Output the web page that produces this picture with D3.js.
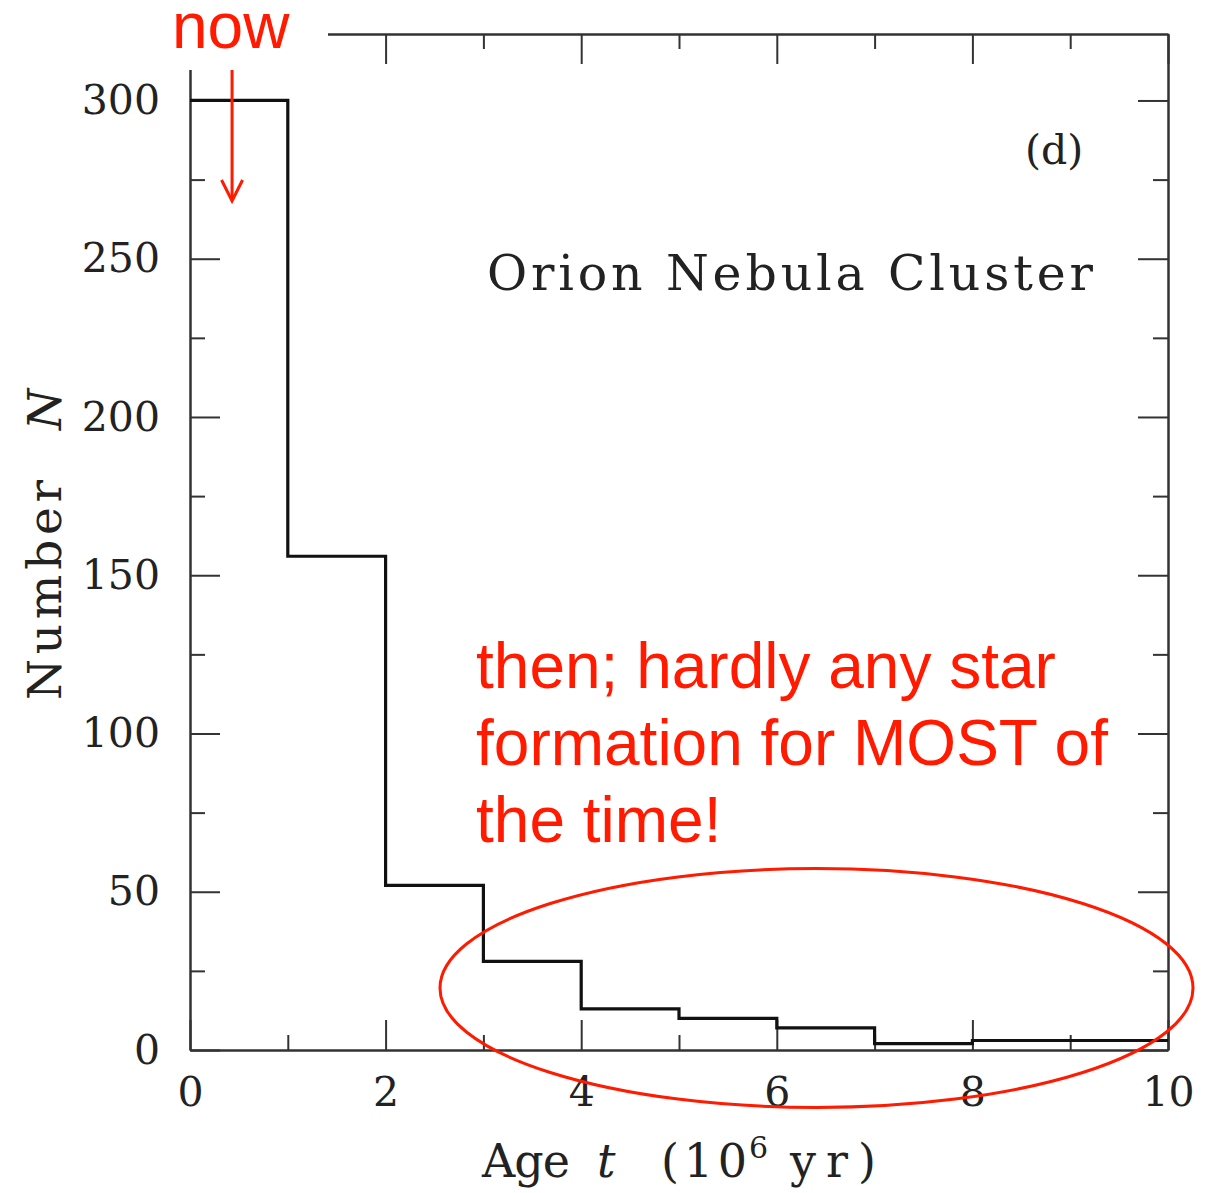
<!DOCTYPE html>
<html>
<head>
<meta charset="utf-8">
<script src="https://cdn.jsdelivr.net/npm/d3@7"></script>
<style>
  html, body { margin: 0; padding: 0; background: #fff; }
  svg { display: block; }
  .serif { font-family: "DejaVu Serif", serif; fill: #222; }
  .sans { font-family: "Liberation Sans", Arial, sans-serif; }
</style>
</head>
<body>
<svg id="chart" width="1205" height="1193"></svg>
<script>
// Age bins (10^6 yr) and star counts per bin
const binEdges = [0, 1, 2, 3, 4, 5, 6, 7, 8, 9, 10];
const counts   = [300, 156, 52, 28, 13, 10, 7, 2, 3, 3];

const xMajorTicks = [0, 2, 4, 6, 8, 10];
const xMinorTicks = [1, 3, 5, 7, 9];
const yMajorTicks = [0, 50, 100, 150, 200, 250, 300];
const yMinorTicks = [25, 75, 125, 175, 225, 275];

const noteLines = ["then; hardly any star", "formation for MOST of", "the time!"];

const svg = d3.select("#chart");

const x = d3.scaleLinear().domain([0, 10]).range([190, 1168]);
const y = d3.scaleLinear().domain([0, 321]).range([1050, 34]);

const axisColor = "#333";

function styleAxis(g) {
  g.selectAll("path.domain").attr("stroke", axisColor).attr("stroke-width", 2);
  g.selectAll(".tick line").attr("stroke", axisColor).attr("stroke-width", 2);
  g.selectAll(".tick text")
    .attr("class", "serif")
    .style("font-size", "41px")
    .attr("fill", "#222");
}

// frame: bottom/left with labels, top/right with ticks only
const gBottom = svg.append("g").attr("transform", `translate(0,${y(0)})`);
gBottom.call(d3.axisBottom(x).tickValues(xMajorTicks).tickFormat(d3.format("d"))
  .tickSizeInner(-30).tickSizeOuter(0).tickPadding(27));
gBottom.append("g").call(d3.axisBottom(x).tickValues(xMinorTicks).tickFormat("")
  .tickSizeInner(-15).tickSizeOuter(0));
styleAxis(gBottom);

const gTop = svg.append("g").attr("transform", `translate(0,${y(321)})`);
gTop.call(d3.axisTop(x).tickValues(xMajorTicks).tickFormat("")
  .tickSizeInner(-30).tickSizeOuter(0));
gTop.append("g").call(d3.axisTop(x).tickValues(xMinorTicks).tickFormat("")
  .tickSizeInner(-15).tickSizeOuter(0));
styleAxis(gTop);

const gLeft = svg.append("g").attr("transform", `translate(${x(0)},0)`);
gLeft.call(d3.axisLeft(y).tickValues(yMajorTicks).tickFormat(d3.format("d"))
  .tickSizeInner(-30).tickSizeOuter(0).tickPadding(30));
gLeft.append("g").call(d3.axisLeft(y).tickValues(yMinorTicks).tickFormat("")
  .tickSizeInner(-15).tickSizeOuter(0));
styleAxis(gLeft);

const gRight = svg.append("g").attr("transform", `translate(${x(10)},0)`);
gRight.call(d3.axisRight(y).tickValues(yMajorTicks).tickFormat("")
  .tickSizeInner(-30).tickSizeOuter(0));
gRight.append("g").call(d3.axisRight(y).tickValues(yMinorTicks).tickFormat("")
  .tickSizeInner(-15).tickSizeOuter(0));
styleAxis(gRight);

// histogram outline as a step line
const stepData = binEdges.map((e, i) => ({ t: e, n: i < counts.length ? counts[i] : counts[counts.length - 1] }));
const step = d3.line().x(d => x(d.t)).y(d => y(d.n)).curve(d3.curveStepAfter);
svg.append("path")
  .datum(stepData)
  .attr("d", step)
  .attr("fill", "none")
  .attr("stroke", "#111")
  .attr("stroke-width", 3.2);

// panel texts
svg.append("text").attr("class", "serif")
  .attr("x", 1025).attr("y", 164)
  .style("font-size", "41px")
  .text("(d)");

svg.append("text").attr("class", "serif")
  .attr("x", 487).attr("y", 290)
  .attr("textLength", 606).attr("lengthAdjust", "spacing")
  .style("font-size", "49px")
  .text("Orion Nebula Cluster");

// axis titles
const xTitle = svg.append("text").attr("class", "serif")
  .attr("y", 1177).style("font-size", "46px");
xTitle.append("tspan").attr("x", 482).attr("textLength", 88).attr("lengthAdjust", "spacing").text("Age");
xTitle.append("tspan").attr("x", 597).style("font-style", "italic").text("t");
xTitle.append("tspan").attr("x", 661).attr("textLength", 86).attr("lengthAdjust", "spacing").text("(10");
xTitle.append("tspan").attr("x", 749).attr("dy", -19).style("font-size", "30px").text("6");
xTitle.append("tspan").attr("x", 790).attr("dy", 19).attr("textLength", 86).attr("lengthAdjust", "spacing").text("yr)");

const yTitle = svg.append("text").attr("class", "serif")
  .attr("transform", "translate(61,700) rotate(-90)")
  .style("font-size", "47px");
yTitle.append("tspan").attr("x", 0).attr("textLength", 220).attr("lengthAdjust", "spacing").text("Number");
yTitle.append("tspan").attr("x", 270).style("font-style", "italic").text("N");

// annotations
const red = "#ff1a00";
svg.append("rect").attr("x", 0).attr("y", 0).attr("width", 328).attr("height", 70).attr("fill", "#fff");

svg.append("text").attr("class", "sans")
  .attr("x", 172).attr("y", 48)
  .style("font-size", "64px").attr("fill", red)
  .text("now");

const arrowX = x(0.43);
svg.append("line")
  .attr("x1", arrowX).attr("x2", arrowX).attr("y1", 70).attr("y2", 200)
  .attr("stroke", red).attr("stroke-width", 3);
svg.append("path")
  .attr("d", `M${arrowX - 10.5},180 L${arrowX},201 L${arrowX + 10.5},180`)
  .attr("fill", "none").attr("stroke", red).attr("stroke-width", 3)
  .attr("stroke-linejoin", "miter");

const note = svg.append("text").attr("class", "sans")
  .style("font-size", "64px").attr("fill", red);
noteLines.forEach((line, i) => {
  note.append("tspan").attr("x", 476).attr("y", 688 + i * 77).text(line);
});

svg.append("ellipse")
  .attr("cx", 816.5).attr("cy", 988).attr("rx", 376.5).attr("ry", 119.5)
  .attr("fill", "none").attr("stroke", red).attr("stroke-width", 3);
</script>
</body>
</html>
